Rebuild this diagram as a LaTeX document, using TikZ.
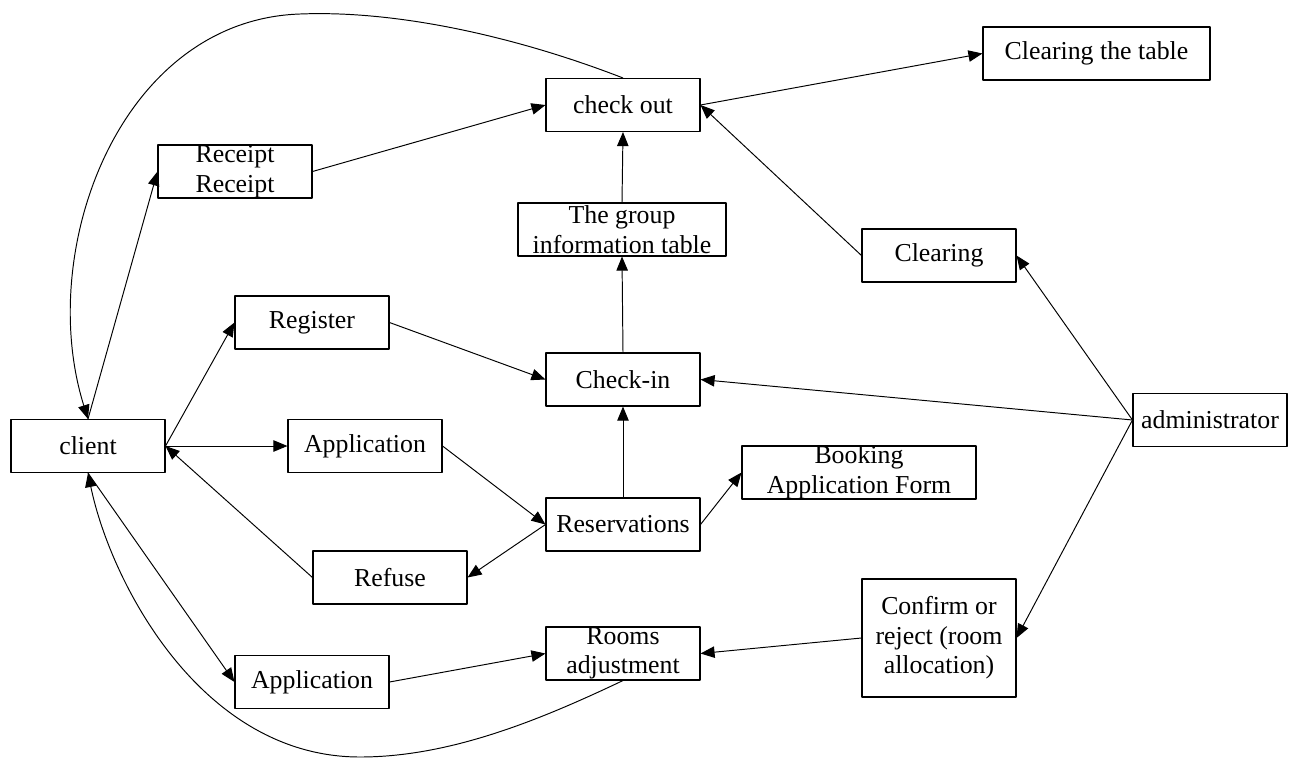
\documentclass[tikz,border=0pt]{standalone}
\usepackage{fontspec}
\setmainfont{Liberation Serif}
\usetikzlibrary{arrows.meta}
\begin{document}
\begin{tikzpicture}[x=0.02cm,y=-0.02cm,>={Triangle[length=8pt,width=6.5pt]},line join=round,
	box/.style={draw,line width=0.6pt,inner sep=0pt,align=center,minimum width=154*0.02cm,minimum height=53*0.02cm,font=\fontsize{14.7}{16.8}\selectfont},
	link/.style={->,line width=0.55pt}]
	\useasboundingbox (0,0) rectangle (1296,758);
	% boxes
	\node[box] (client) at (88,446) {client};
	\node[box] (receipt) at (235,171.5) {Receipt\\Receipt};
	\node[box] (checkout) at (623,105) {check out};
	\node[box,minimum width=227*0.02cm] (cleartable) at (1096.5,53.5) {Clearing the table};
	\node[box,minimum width=208*0.02cm] (groupinfo) at (622,229.5) {The group\\information table};
	\node[box] (clearing) at (939,255.5) {Clearing};
	\node[box] (register) at (312,322.5) {Register};
	\node[box] (checkin) at (623,379.5) {Check-in};
	\node[box] (appl) at (365,446) {Application};
	\node[box] (admin) at (1210,420) {administrator};
	\node[box,minimum width=234*0.02cm] (booking) at (859,472.5) {Booking\\Application Form};
	\node[box] (reserv) at (623,524.5) {Reservations};
	\node[box] (refuse) at (390,577.5) {Refuse};
	\node[box,minimum height=118*0.02cm] (confirm) at (939,638) {Confirm or\\reject (room\\allocation)};
	\node[box] (rooms) at (623,653.5) {Rooms\\adjustment};
	\node[box] (appl2) at (312,682) {Application};
	% links
	\draw[link] (client.north) -- (receipt.west);
	\draw[link] (receipt.east) -- (checkout.west);
	\draw[link] (checkout.east) -- (cleartable.west);
	\draw[link] (clearing.west) -- (checkout.east);
	\draw[link] (groupinfo.north) -- (checkout.south);
	\draw[link] (checkin.north) -- (groupinfo.south);
	\draw[link] (client.east) -- (register.west);
	\draw[link] (register.east) -- (checkin.west);
	\draw[link] (client.east) -- (appl.west);
	\draw[link] (appl.east) -- (reserv.west);
	\draw[link] (reserv.west) -- (refuse.east);
	\draw[link] (refuse.west) -- (client.east);
	\draw[link] (reserv.north) -- (checkin.south);
	\draw[link] (reserv.east) -- (booking.west);
	\draw[link] (admin.west) -- (checkin.east);
	\draw[link] (admin.west) -- (clearing.east);
	\draw[link] (admin.west) -- (confirm.east);
	\draw[link] (confirm.west) -- (rooms.east);
	\draw[link] (appl2.east) -- (rooms.west);
	\draw[link] (client.south) -- (appl2.west);
	% long curves
	\draw[link] (checkout.north) .. controls (520,38) and (400,10) .. (300,14) .. controls (120,20) and (35,250) .. (client.north);
	\draw[link] (rooms.south) .. controls (540,720) and (450,757) .. (360,757) .. controls (200,757) and (110,580) .. (client.south);
\end{tikzpicture}
\end{document}
